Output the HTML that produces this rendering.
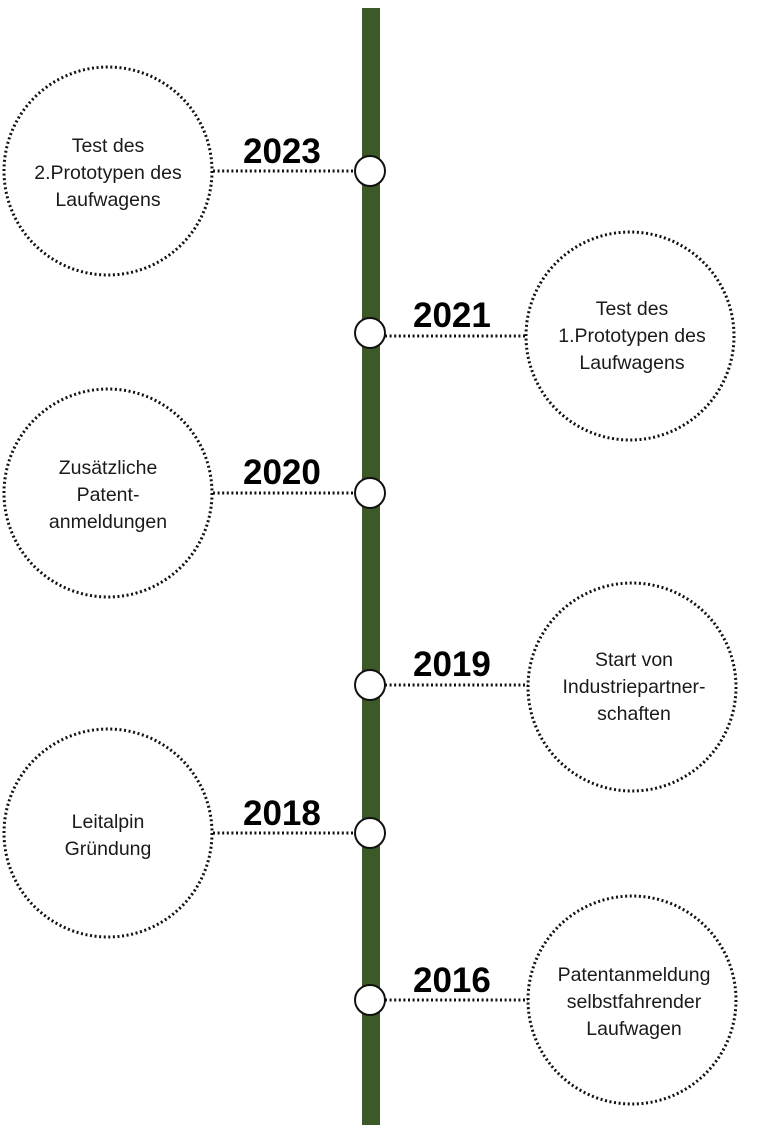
<!DOCTYPE html>
<html><head><meta charset="utf-8"><style>
html,body{margin:0;padding:0;background:#fff;}
body{width:783px;height:1125px;position:relative;overflow:hidden;}
.t{font-family:"Liberation Sans",sans-serif;font-size:19.5px;fill:#1a1a1a;text-anchor:middle;}
.y{font-family:"Liberation Sans",sans-serif;font-size:35px;font-weight:bold;fill:#000;}
</style></head><body>
<svg width="783" height="1125" xmlns="http://www.w3.org/2000/svg">
<rect x="362" y="8" width="18" height="1117" fill="#3b5a27"/>
<g fill="none" stroke="#111" stroke-width="3" stroke-dasharray="2,2.6">
<circle cx="108" cy="171" r="104"/>
<circle cx="630" cy="336" r="104"/>
<circle cx="108" cy="493" r="104"/>
<circle cx="632" cy="687" r="104"/>
<circle cx="108" cy="833" r="104"/>
<circle cx="632" cy="1000" r="104"/>
<line x1="213" y1="171" x2="355" y2="171"/>
<line x1="385" y1="336" x2="526" y2="336"/>
<line x1="213" y1="493" x2="355" y2="493"/>
<line x1="385" y1="685" x2="528" y2="685"/>
<line x1="213" y1="833" x2="355" y2="833"/>
<line x1="385" y1="1000" x2="528" y2="1000"/>
</g>
<g fill="#fff" stroke="#111" stroke-width="2">
<circle cx="370" cy="171" r="15"/>
<circle cx="370" cy="333" r="15"/>
<circle cx="370" cy="493" r="15"/>
<circle cx="370" cy="685" r="15"/>
<circle cx="370" cy="833" r="15"/>
<circle cx="370" cy="1000" r="15"/>
</g>
<text class="y" x="243" y="163">2023</text>
<text class="y" x="413" y="327">2021</text>
<text class="y" x="243" y="484">2020</text>
<text class="y" x="413" y="676">2019</text>
<text class="y" x="243" y="825">2018</text>
<text class="y" x="413" y="992">2016</text>
<g class="t">
<text x="108" y="152">Test des</text><text x="108" y="179">2.Prototypen des</text><text x="108" y="206">Laufwagens</text>
<text x="632" y="315">Test des</text><text x="632" y="342">1.Prototypen des</text><text x="632" y="369">Laufwagens</text>
<text x="108" y="474">Zusätzliche</text><text x="108" y="501">Patent-</text><text x="108" y="528">anmeldungen</text>
<text x="634" y="666">Start von</text><text x="634" y="693">Industriepartner-</text><text x="634" y="720">schaften</text>
<text x="108" y="828">Leitalpin</text><text x="108" y="855">Gründung</text>
<text x="634" y="981">Patentanmeldung</text><text x="634" y="1008">selbstfahrender</text><text x="634" y="1035">Laufwagen</text>
</g>
</svg>
</body></html>
